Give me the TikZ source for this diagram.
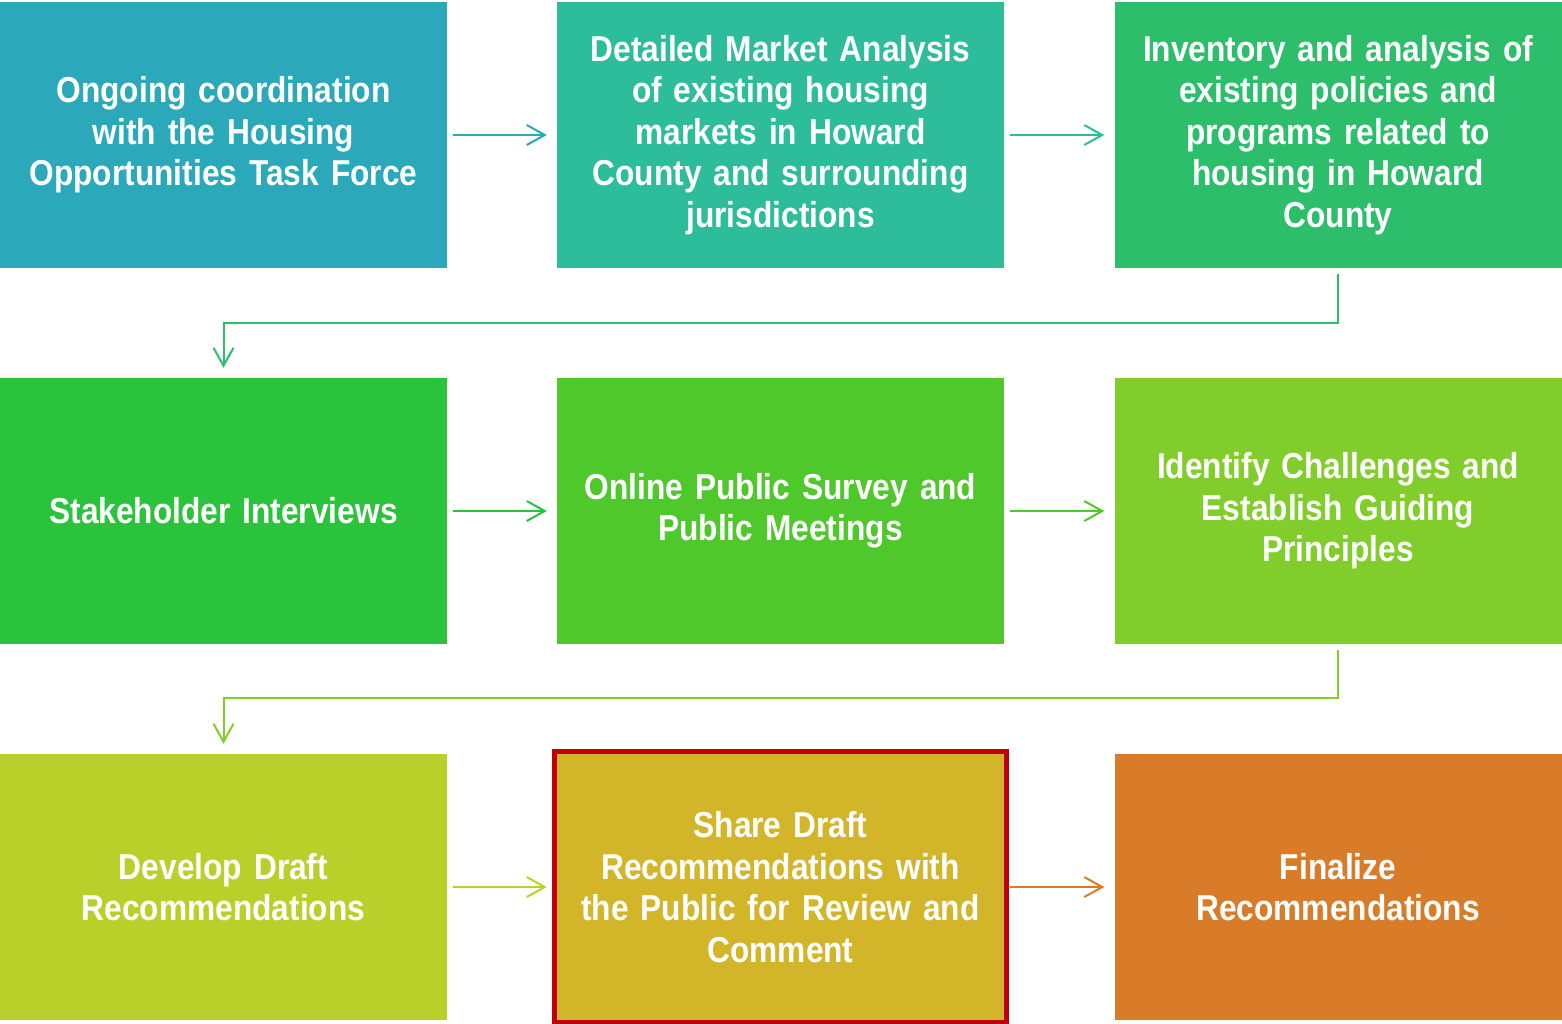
\documentclass[tikz,border=0pt]{standalone}
\usepackage{fontspec}
\setmainfont[FakeStretch=0.88]{Liberation Sans}
\usetikzlibrary{arrows.meta}
\definecolor{cA}{RGB}{43,168,186}
\definecolor{cB}{RGB}{45,189,155}
\definecolor{cC}{RGB}{44,190,106}
\definecolor{cD}{RGB}{43,195,60}
\definecolor{cE}{RGB}{78,200,43}
\definecolor{cF}{RGB}{128,205,43}
\definecolor{cG}{RGB}{185,208,42}
\definecolor{cH}{RGB}{211,181,41}
\definecolor{cI}{RGB}{216,124,41}
\definecolor{frame}{RGB}{192,0,0}
\begin{document}
\begin{tikzpicture}[x=1pt,y=-1pt,
  stepbox/.style={rectangle, inner sep=0pt, minimum width=447pt, minimum height=266pt,
    text width=440pt, align=center, text=white,
    font=\fontsize{36}{41.5}\selectfont\bfseries},
  link/.style={line width=2pt, -{Straight Barb[length=18pt,width=20pt,line width=2pt]}}]
\useasboundingbox (0,0) rectangle (1562,1024);
\fill[white] (0,0) rectangle (1562,1024);
% first row
\node[stepbox, fill=cA] (s1) at (223.5,135) {Ongoing coordination\\with the Housing\\Opportunities Task Force};
\node[stepbox, fill=cB] (s2) at (780.5,135) {Detailed Market Analysis\\of existing housing\\markets in Howard\\County and surrounding\\jurisdictions};
\node[stepbox, fill=cC] (s3) at (1338,135) {Inventory and analysis of\\existing policies and\\programs related to\\housing in Howard\\County};
% second row
\node[stepbox, fill=cD] (s4) at (223.5,511) {Stakeholder Interviews};
\node[stepbox, fill=cE] (s5) at (780.5,511) {Online Public Survey and\\Public Meetings};
\node[stepbox, fill=cF] (s6) at (1338,511) {Identify Challenges and\\Establish Guiding\\Principles};
% third row
\node[stepbox, fill=cG] (s7) at (223.5,887) {Develop Draft\\Recommendations};
\node[stepbox, fill=cH] (s8) at (780.5,887) {Share Draft\\Recommendations with\\the Public for Review and\\Comment};
\node[stepbox, fill=cI] (s9) at (1338,887) {Finalize\\Recommendations};
\draw[frame, line width=5pt] ([shift={(-2.5,2.5)}]s8.south west) rectangle ([shift={(2.5,-2.5)}]s8.north east);
% connectors
\draw[link, cA] ([xshift=6pt]s1.east) -- ([xshift=-10pt]s2.west);
\draw[link, cB] ([xshift=6pt]s2.east) -- ([xshift=-10pt]s3.west);
\draw[link, cC] ([yshift=-6pt]s3.south) -- ++(0,49) -| ([yshift=10pt]s4.north);
\draw[link, cD] ([xshift=6pt]s4.east) -- ([xshift=-10pt]s5.west);
\draw[link, cE] ([xshift=6pt]s5.east) -- ([xshift=-10pt]s6.west);
\draw[link, cF] ([yshift=-6pt]s6.south) -- ++(0,48) -| ([yshift=10pt]s7.north);
\draw[link, cG] ([xshift=6pt]s7.east) -- ([xshift=-10pt]s8.west);
\draw[link, cI] ([xshift=6pt]s8.east) -- ([xshift=-10pt]s9.west);
\end{tikzpicture}
\end{document}
